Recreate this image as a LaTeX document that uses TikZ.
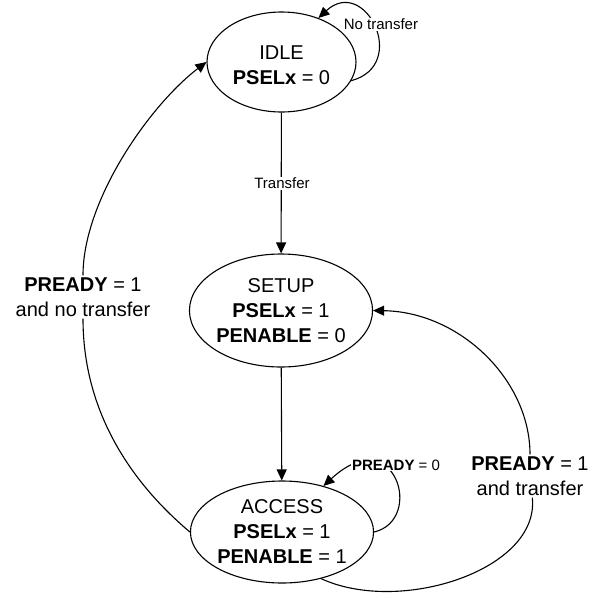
\documentclass[tikz,border=0pt]{standalone}
\usepackage{fontspec}
\setmainfont{Liberation Sans}
\usetikzlibrary{shapes.geometric,arrows.meta}
\begin{document}
\begin{tikzpicture}[x=1pt,y=-1pt,
  state/.style={draw, ellipse, line width=1.1pt, inner sep=0pt, align=center, font=\fontsize{20}{25}\selectfont},
  statetext/.style={align=center, inner sep=0pt, font=\fontsize{20}{25}\selectfont},
  conn/.style={line width=1.1pt},
  arr/.style={conn, -{Triangle[length=11pt,width=10pt]}},
  biglbl/.style={align=center, font=\fontsize{20}{25}\selectfont, inner sep=2pt},
  smalllbl/.style={font=\fontsize{15}{18}\selectfont, fill=white, inner sep=1pt}]
\useasboundingbox (0,0) rectangle (597,598);
\node[state, minimum width=149pt, minimum height=100pt] (idle) at (281.5,62) {};
\node[statetext] (idletxt) at (281.5,65.5) {IDLE\\\textbf{PSELx} = 0};
\node[state, minimum width=176pt, minimum height=113pt] (setup) at (281,310.5) {SETUP\\\textbf{PSELx} = 1\\\textbf{PENABLE} = 0};
\node[state, minimum width=179pt, minimum height=102pt] (access) at (282,532) {ACCESS\\\textbf{PSELx} = 1\\\textbf{PENABLE} = 1};
% vertical arrows
\draw[arr] (idle) -- (setup);
\node[smalllbl] (ltr) at (282,183) {Transfer};
\draw[arr] (setup) -- (access);
% idle loop
\draw[arr] (idle.-15) .. controls (410,65) and (365,-25) .. (idle.50);
\node[smalllbl] (lnt) at (381,24) {No transfer};
% access loop
\draw[arr] (access.east) .. controls (425,520) and (395,420) .. (access.48);
\node[smalllbl] (lp0) at (396,465) {\textbf{PREADY} = 0};
% left big arc
\node[biglbl] (lblL) at (83,297) {\textbf{PREADY} = 1\\and no transfer};
\draw[conn] (access.west) .. controls (140,490) and (83,420) .. (lblL);
\draw[arr] (lblL) .. controls (83,200) and (150,105) .. (idle.west);
% right big arc
\node[biglbl] (lblR) at (530,476) {\textbf{PREADY} = 1\\and transfer};
\draw[conn] (access.-50) .. controls (400,615) and (540,570) .. (lblR);
\draw[arr] (lblR) .. controls (530,380) and (460,312) .. (setup.east);
\end{tikzpicture}
\end{document}
